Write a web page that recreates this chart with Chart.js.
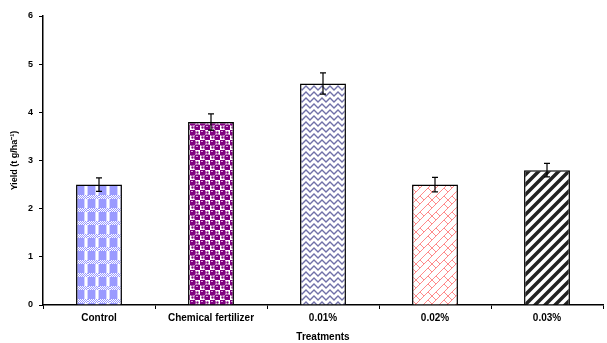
<!DOCTYPE html>
<html>
<head>
<meta charset="utf-8">
<script src="https://cdn.jsdelivr.net/npm/chart.js@4"></script>
<style>
    html, body { margin: 0; padding: 0; background: #fff; }
    canvas { display: block; }
</style>
</head>
<body>
<canvas id="yieldChart" width="607" height="343"></canvas>
<script>
// Chart data
const categories = ['Control', 'Chemical fertilizer', '0.01%', '0.02%', '0.03%'];
const yieldValues = [2.5, 3.8, 4.6, 2.5, 2.8];
const yieldErrors = [0.14, 0.17, 0.22, 0.15, 0.14];
const yTicks = [0, 1, 2, 3, 4, 5, 6];

// Build a repeating fill from a small tile
function makePattern(w, h, draw) {
    const tile = document.createElement('canvas');
    tile.width = w;
    tile.height = h;
    draw(tile.getContext('2d'));
    return tile.getContext('2d').createPattern(tile, 'repeat');
}

// Control - light blue check
const checkPattern = makePattern(11, 13, g => {
    g.fillStyle = '#ffffff';
    g.fillRect(0, 0, 11, 13);
    g.fillStyle = '#9a9aff';
    for (let x = 0; x < 11; x++) {
        for (let y = 0; y < 4; y++) {
            if ((x + y) % 2 === 0) g.fillRect(x, y, 1, 1);
        }
    }
    g.fillRect(0, 4, 7, 9);
    g.fillStyle = '#d4d4ff';
    g.fillRect(7, 4, 1, 9);
    g.fillRect(10, 4, 1, 9);
});

// Chemical fertilizer - purple dots
const dotPattern = makePattern(10, 10, g => {
    g.fillStyle = '#ffffff';
    g.fillRect(0, 0, 10, 10);
    g.fillStyle = '#800080';
    g.beginPath();
    g.arc(2.5, 2.5, 3.3, 0, Math.PI * 2);
    g.arc(7.5, 7.5, 3.3, 0, Math.PI * 2);
    g.fill();
    g.beginPath();
    g.arc(7.5, 2.5, 1.2, 0, Math.PI * 2);
    g.arc(2.5, 7.5, 1.2, 0, Math.PI * 2);
    g.fill();
    g.fillStyle = '#d9a6d9';
    g.fillRect(1, 1, 2, 1);
    g.fillRect(6, 6, 2, 1);
});

// 0.01% - navy herringbone
const weavePattern = makePattern(8, 6, g => {
    g.fillStyle = '#ffffff';
    g.fillRect(0, 0, 8, 6);
    g.strokeStyle = '#7070a8';
    g.lineWidth = 1.4;
    g.beginPath();
    g.moveTo(-2, 6); g.lineTo(2, 2); g.lineTo(6, 6); g.lineTo(10, 2);
    g.moveTo(-2, 0); g.lineTo(0, -2);
    g.moveTo(2, -4); g.lineTo(6, 0); g.lineTo(10, -4);
    g.stroke();
});

// 0.02% - red diagonal bricks
const brickPattern = makePattern(16, 16, g => {
    g.fillStyle = '#ffffff';
    g.fillRect(0, 0, 16, 16);
    g.strokeStyle = '#ff8a8a';
    g.lineWidth = 1;
    g.beginPath();
    g.moveTo(0, 16); g.lineTo(16, 0);
    g.moveTo(0, 8); g.lineTo(8, 0);
    g.moveTo(8, 16); g.lineTo(16, 8);
    g.moveTo(4, 4); g.lineTo(8, 8);
    g.moveTo(12, 12); g.lineTo(16, 16);
    g.moveTo(12, 4); g.lineTo(16, 8);
    g.moveTo(0, 8); g.lineTo(4, 12);
    g.stroke();
});

// 0.03% - black wide diagonal stripes
const stripePattern = makePattern(10, 10, g => {
    g.fillStyle = '#ffffff';
    g.fillRect(0, 0, 10, 10);
    g.strokeStyle = '#222222';
    g.lineWidth = 3.5;
    g.beginPath();
    g.moveTo(-2, 12); g.lineTo(12, -2);
    g.moveTo(-2, 2); g.lineTo(2, -2);
    g.moveTo(8, 12); g.lineTo(12, 8);
    g.stroke();
});

// Error bars drawn from the bar positions
const errorBarPlugin = {
    id: 'errorBars',
    afterDatasetsDraw(chart) {
        const ctx = chart.ctx;
        const meta = chart.getDatasetMeta(0);
        const yScale = chart.scales.y;
        ctx.save();
        ctx.strokeStyle = '#000';
        ctx.lineWidth = 1.2;
        meta.data.forEach((bar, i) => {
            const top = yScale.getPixelForValue(yieldValues[i] + yieldErrors[i]);
            const bottom = yScale.getPixelForValue(yieldValues[i] - yieldErrors[i]);
            ctx.beginPath();
            ctx.moveTo(bar.x, top);
            ctx.lineTo(bar.x, bottom);
            ctx.moveTo(bar.x - 3, top);
            ctx.lineTo(bar.x + 3, top);
            ctx.moveTo(bar.x - 3, bottom);
            ctx.lineTo(bar.x + 3, bottom);
            ctx.stroke();
        });
        ctx.restore();
    }
};

const labelFont = { family: 'Liberation Sans', size: 10, weight: 'bold' };

new Chart(document.getElementById('yieldChart'), {
    type: 'bar',
    data: {
        labels: categories,
        datasets: [{
            data: yieldValues,
            backgroundColor: [checkPattern, dotPattern, weavePattern, brickPattern, stripePattern],
            borderColor: '#000',
            borderWidth: 1.5,
            borderSkipped: 'bottom',
            barPercentage: 0.41,
            categoryPercentage: 1
        }]
    },
    plugins: [errorBarPlugin],
    options: {
        responsive: false,
        animation: false,
        layout: { padding: { left: 9, top: 16, right: 4, bottom: 0 } },
        plugins: {
            legend: { display: false },
            tooltip: { enabled: false }
        },
        scales: {
            y: {
                min: 0,
                max: 6,
                afterBuildTicks: scale => {
                    scale.ticks = yTicks.map(v => ({ value: v }));
                },
                afterFit: scale => { scale.width = 34; },
                border: { color: '#000', width: 1.5 },
                grid: { drawOnChartArea: false, color: '#000', tickLength: 4 },
                ticks: { color: '#000', font: { ...labelFont, size: 9 }, padding: 6 },
                title: {
                    display: true,
                    text: 'Yield (t g/ha⁻¹)',
                    color: '#000',
                    font: { ...labelFont, size: 9 },
                    padding: 0
                }
            },
            x: {
                afterFit: scale => { scale.height = 38; },
                border: { color: '#000', width: 1.5 },
                grid: { drawOnChartArea: false, color: '#000', tickLength: 4 },
                ticks: { color: '#000', font: labelFont, padding: 3, maxRotation: 0 },
                title: {
                    display: true,
                    text: 'Treatments',
                    color: '#000',
                    font: labelFont,
                    padding: { top: 4, bottom: 0 }
                }
            }
        }
    }
});
</script>
</body>
</html>
